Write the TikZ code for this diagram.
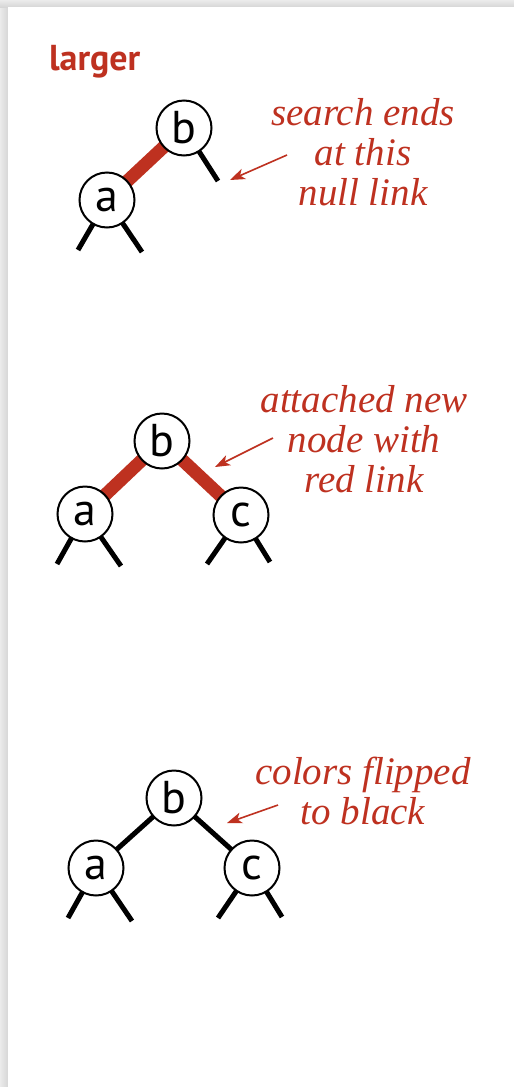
\documentclass[tikz,border=0pt]{standalone}
\usepackage{fontspec}
\setmainfont{Liberation Serif}
\setsansfont{PT Sans}
\usetikzlibrary{arrows.meta,backgrounds}
\definecolor{linkred}{RGB}{190,49,32}

\begin{document}
\begin{tikzpicture}[x=0.5pt,y=-0.5pt,
    knot/.style={circle,draw,line width=1pt,fill=white,minimum size=27.5pt,inner sep=0pt,
      font=\sffamily\fontsize{23}{23}\selectfont},
    redlink/.style={linkred,line width=6.5pt},
    blacklink/.style={line width=2.5pt},
    note/.style={align=center,text=linkred,font=\itshape\fontsize{19.5}{20}\selectfont},
    pointer/.style={linkred,line width=0.8pt,-{Stealth[length=7.5pt,width=5.5pt,inset=2pt]}}]

    \useasboundingbox (0,0) rectangle (514,1087);

    \node[anchor=base west,text=linkred,font=\sffamily\bfseries\fontsize{18}{18}\selectfont] (title) at (42,70) {larger};

    % first tree
    \node[knot] (b1) at (184,128) {b};
    \node[knot] (a1) at (107,200) {a};
    \coordinate (b1r) at (218,181);
    \coordinate (a1l) at (78,250);
    \coordinate (a1r) at (142,252);
    \node[note] (n1) at (363,152) {search ends\\at this\\null link};
    \coordinate (t1) at (287,155);
    \coordinate (h1) at (230,180);

    % second tree
    \node[knot] (b2) at (162,441) {b};
    \node[knot] (a2) at (85,514) {a};
    \node[knot] (c2) at (241,515) {c};
    \coordinate (a2l) at (57,564);
    \coordinate (a2r) at (121,566);
    \coordinate (c2l) at (207,564);
    \coordinate (c2r) at (270,562);
    \node[note] (n2) at (364,439) {attached new\\node with\\red link};
    \coordinate (t2) at (273,438);
    \coordinate (h2) at (215,467);

    % third tree
    \node[knot] (b3) at (174,798) {b};
    \node[knot] (a3) at (96,868) {a};
    \node[knot] (c3) at (252,868) {c};
    \coordinate (a3l) at (68,918);
    \coordinate (a3r) at (132,921);
    \coordinate (c3l) at (218,918);
    \coordinate (c3r) at (282,917);
    \node[note] (n3) at (363,791) {colors flipped\\to black};
    \coordinate (t3) at (278,805);
    \coordinate (h3) at (227,823);

    \path[pointer]
    (t1) edge (h1)
    (t2) edge (h2)
    (t3) edge (h3);

    \begin{scope}[on background layer]
      \shade[left color=black!8,right color=black!16] (0,0) rectangle (8,1087);
      \shade[top color=black!8,bottom color=black!16] (0,0) rectangle (514,7);
      \fill[white] (8,7) rectangle (514,1087);

      \path[redlink]
      (b1.center) edge (a1.center)
      (b2.center) edge (a2.center)
      (b2.center) edge (c2.center);
      \path[blacklink]
      (b3.center) edge (a3.center)
      (b3.center) edge (c3.center)
      (b1.center) edge (b1r)
      (a1.center) edge (a1l)
      (a1.center) edge (a1r)
      (a2.center) edge (a2l)
      (a2.center) edge (a2r)
      (c2.center) edge (c2l)
      (c2.center) edge (c2r)
      (a3.center) edge (a3l)
      (a3.center) edge (a3r)
      (c3.center) edge (c3l)
      (c3.center) edge (c3r);
    \end{scope}
\end{tikzpicture}
\end{document}
